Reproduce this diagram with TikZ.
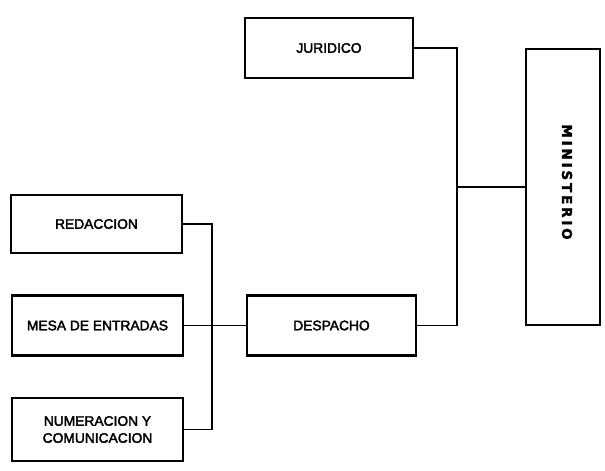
\documentclass[tikz,border=0pt]{standalone}
\usepackage{fontspec}
\setmainfont{Liberation Sans}
\newfontfamily\boxfont[FakeBold=2.5]{Liberation Sans}
\newfontfamily\minfont[LetterSpace=21,FakeBold=2.5]{DejaVu Sans Bold}
\begin{document}
\begin{tikzpicture}[x=1pt,y=-1pt,
  unitbox/.style={draw, line width=2.2pt, inner sep=0pt, align=center,
    font=\boxfont\fontsize{13.8}{17}\selectfont},
  link/.style={line width=1.1pt}]
\useasboundingbox (0,0) rectangle (605,471);
\node[unitbox, minimum width=168pt, minimum height=60pt] (jur) at (329,48) {JURIDICO};
\node[unitbox, minimum width=169pt, minimum height=60pt] (des) at (331.5,325.5) {DESPACHO};
\node[unitbox, minimum width=171pt, minimum height=58pt] (red) at (96.5,224) {REDACCION};
\node[unitbox, minimum width=171pt, minimum height=60pt] (mes) at (97.5,325.5) {MESA DE ENTRADAS};
\node[unitbox, minimum width=171pt, minimum height=63pt] (num) at (97.5,429.5) {NUMERACION Y\\COMUNICACION};
\node[draw, line width=2.2pt, inner sep=0pt, minimum width=74pt, minimum height=276pt] (min) at (563,187) {};
\node[rotate=-90, inner sep=0pt, font=\minfont\fontsize{13.5}{15}\selectfont] (mintext) at (567,182) {MINISTERIO};
\coordinate (bus) at (212,0);
\coordinate (trunk) at (457,0);
\draw[link] (red.east) -| (bus |- num.east) -- (num.east);
\draw[link] (mes.east) -- (des.west);
\draw[link] (jur.east) -| (trunk |- des.east) -- (des.east);
\coordinate (junc) at (trunk |- min.west);
\draw[link] (junc) -- (min.west);
\end{tikzpicture}
\end{document}
